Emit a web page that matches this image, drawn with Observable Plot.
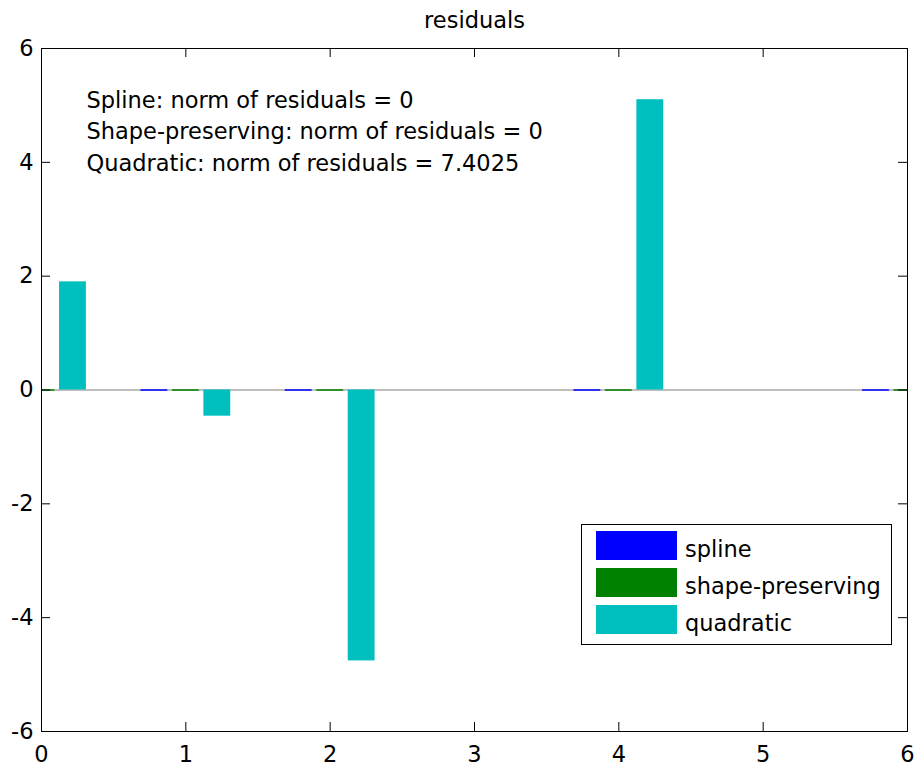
<!DOCTYPE html>
<html>
<head>
<meta charset="utf-8">
<script src="https://cdn.jsdelivr.net/npm/d3@7"></script>
<script src="https://cdn.jsdelivr.net/npm/@observablehq/plot@0.6"></script>
<style>
  html, body { margin: 0; padding: 0; background: #fff; }
  #chart { position: relative; width: 915px; height: 767px; }
</style>
</head>
<body>
<div id="chart"></div>
<script>
// ---- data ----
const xValues = [0, 1, 2, 4, 6];
const splineResiduals = [0, 0, 0, 0, 0];
const shapePreservingResiduals = [0, 0, 0, 0, 0];
const quadraticResiduals = [1.90, -0.46, -4.76, 5.10, -1.52];
const seriesNames = ["spline", "shape-preserving", "quadratic"];
const seriesColors = ["#0000ff", "#008000", "#00bfbf"];
const xTicks = [0, 1, 2, 3, 4, 5, 6];
const yTicks = [-6, -4, -2, 0, 2, 4, 6];
const titleText = "residuals";
const annotationLines = [
  "Spline: norm of residuals = 0",
  "Shape-preserving: norm of residuals = 0",
  "Quadratic: norm of residuals = 7.4025"
];

// ---- layout constants ----
const groupStep = 0.218;   // offset between grouped bars
const barWidth = 0.186;
const FONT = "DejaVu Sans";
const FS = 22.5;

const seriesValues = [splineResiduals, shapePreservingResiduals, quadraticResiduals];
const bars = [];
seriesNames.forEach((name, s) => {
  xValues.forEach((x, i) => {
    const c = x + (s - 1) * groupStep;
    bars.push({series: name, x1: c - barWidth / 2, x2: c + barWidth / 2, value: seriesValues[s][i]});
  });
});
const zeroBars = bars.filter(d => d.value === 0);
const filledBars = bars.filter(d => d.value !== 0);

const plot = Plot.plot({
  width: 915,
  height: 767,
  marginLeft: 41,
  marginRight: 8,
  marginTop: 48,
  marginBottom: 36,
  style: {fontFamily: FONT, fontSize: FS + "px", color: "#000", background: "#fff"},
  x: {domain: [0, 6], label: null},
  y: {domain: [-6, 6], label: null},
  color: {domain: seriesNames, range: seriesColors},
  marks: [
    Plot.ruleY([0], {stroke: "#808080", strokeWidth: 1.2}),
    Plot.rectY(filledBars, {x1: "x1", x2: "x2", y1: 0, y2: "value", fill: "series", clip: true}),
    Plot.ruleY(zeroBars, {x1: "x1", x2: "x2", y: "value", stroke: "series", strokeWidth: 1.5, clip: true}),
    // inward ticks on all four sides
    Plot.ruleX(xTicks, {x: d => d, y1: -6, y2: -6, insetBottom: 9, stroke: "#000"}),
    Plot.ruleX(xTicks, {x: d => d, y1: 6, y2: 6, insetTop: 9, stroke: "#000"}),
    Plot.ruleY(yTicks, {y: d => d, x1: 0, x2: 0, insetLeft: 9, stroke: "#000"}),
    Plot.ruleY(yTicks, {y: d => d, x1: 6, x2: 6, insetRight: 9, stroke: "#000"}),
    Plot.frame({stroke: "#000"}),
    Plot.axisX({ticks: xTicks, tickSize: 0, tickPadding: 15, fontSize: FS, label: null, tickFormat: d => String(d)}),
    Plot.axisY({ticks: yTicks, tickSize: 0, tickPadding: 8, fontSize: FS, label: null, tickFormat: d => String(d)}),
    Plot.text([titleText], {text: d => d, frameAnchor: "top", dy: -28, lineAnchor: "middle", fontSize: FS, fill: "#000"}),
    Plot.text([annotationLines.join("\n")], {text: d => d, frameAnchor: "top-left", dx: 45, dy: 37, lineAnchor: "top", textAnchor: "start", lineHeight: 31.5 / FS, fontSize: FS, fill: "#000"})
  ]
});

document.getElementById("chart").appendChild(plot);

// ---- legend (drawn into the same svg) ----
const svg = d3.select(plot);
const lg = svg.append("g").attr("font-family", FONT).attr("font-size", FS).attr("text-anchor", "start");
lg.append("rect").attr("x", 581.5).attr("y", 524.5).attr("width", 310).attr("height", 120)
  .attr("fill", "#fff").attr("stroke", "#000");
const rowTops = [531, 568, 605];
seriesNames.forEach((name, i) => {
  lg.append("rect").attr("x", 596).attr("y", rowTops[i]).attr("width", 81).attr("height", 29)
    .attr("fill", seriesColors[i]);
  lg.append("text").attr("x", 685).attr("y", rowTops[i] + 18).attr("dy", "0.35em")
    .attr("text-anchor", "start").attr("fill", "#000").text(name);
});
</script>
</body>
</html>
